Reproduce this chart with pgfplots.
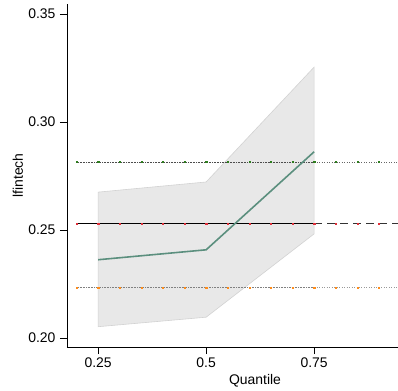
\documentclass[border=0pt]{standalone}
\usepackage{fontspec}
\setmainfont{Liberation Sans}
\usepackage{pgfplots}
\pgfplotsset{compat=1.18}
\definecolor{teal1}{HTML}{5B8F7E}
\definecolor{cifill}{HTML}{E8E8E8}
\definecolor{ciedge}{HTML}{D2D2D2}
\definecolor{dgreen}{HTML}{2E7D1E}
\definecolor{mred}{HTML}{E0303A}
\definecolor{morange}{HTML}{FF8C1A}
\begin{document}
\begin{tikzpicture}
\begin{axis}[
  name=ax,
  scale only axis,
  width=331bp, height=343bp,
  xmin=0.178, xmax=0.944,
  ymin=0.1958, ymax=0.3546,
  axis x line*=bottom, axis y line*=left,
  axis line style={-, black, line width=0.8pt},
  tick align=outside,
  major tick length=7bp,
  tick style={black, line width=0.8pt},
  xtick={0.25,0.5,0.75},
  xticklabels={0.25,0.5,0.75},
  ytick={0.20,0.25,0.30,0.35},
  yticklabel style={/pgf/number format/fixed, /pgf/number format/fixed zerofill, /pgf/number format/precision=2, xshift=-1bp},
  /pgf/number format/assume math mode=true,
  every tick label/.append style={font=\fontsize{14}{16}\selectfont},
  ylabel={lfintech},
  xlabel={Quantile},
  every axis y label/.style={at={(axis description cs:-0.148,0.5)}, rotate=90, anchor=center, font=\fontsize{14}{16}\selectfont},
  every axis x label/.style={at={(axis description cs:0.568,-0.099)}, anchor=center, font=\fontsize{14}{16}\selectfont},
  clip=true,
]
% confidence band
\addplot[fill=cifill, draw=ciedge, line width=0.6pt] coordinates {
 (0.25,0.2675) (0.5,0.2722) (0.75,0.3254) (0.75,0.2482) (0.5,0.2096) (0.25,0.2052)} -- cycle;
% upper reference line (dotted, green marks)
\addplot[black!70, densely dotted, line width=0.6pt] coordinates {(0.2,0.2815) (0.75,0.2815)};
\addplot[black!60, dotted, line width=0.5pt] coordinates {(0.75,0.2815) (0.95,0.2815)};
\addplot[only marks, mark=square*, mark size=0.6pt, dgreen] coordinates {
 (0.20,0.2815) (0.25,0.2815) (0.30,0.2815) (0.35,0.2815) (0.40,0.2815) (0.45,0.2815) (0.50,0.2815) (0.55,0.2815)
 (0.60,0.2815) (0.65,0.2815) (0.70,0.2815) (0.75,0.2815) (0.80,0.2815) (0.85,0.2815) (0.90,0.2815) (0.95,0.2815)};
% middle reference line (solid then dashed, red marks)
\addplot[black, line width=0.8pt] coordinates {(0.2,0.2528) (0.75,0.2528)};
\addplot[black!80, dash pattern=on 8bp off 5bp, line width=0.8pt] coordinates {(0.75,0.2528) (0.95,0.2528)};
\addplot[only marks, mark=square*, mark size=0.6pt, mred] coordinates {
 (0.20,0.2528) (0.25,0.2528) (0.30,0.2528) (0.35,0.2528) (0.40,0.2528) (0.45,0.2528) (0.50,0.2528) (0.55,0.2528)
 (0.60,0.2528) (0.65,0.2528) (0.70,0.2528) (0.75,0.2528) (0.80,0.2528) (0.85,0.2528) (0.90,0.2528) (0.95,0.2528)};
% lower reference line (dotted, orange marks)
\addplot[black!50, densely dotted, line width=0.6pt] coordinates {(0.2,0.2234) (0.75,0.2234)};
\addplot[black!40, dotted, line width=0.5pt] coordinates {(0.75,0.2234) (0.95,0.2234)};
\addplot[only marks, mark=square*, mark size=0.6pt, morange] coordinates {
 (0.20,0.2234) (0.25,0.2234) (0.30,0.2234) (0.35,0.2234) (0.40,0.2234) (0.45,0.2234) (0.50,0.2234) (0.55,0.2234)
 (0.60,0.2234) (0.65,0.2234) (0.70,0.2234) (0.75,0.2234) (0.80,0.2234) (0.85,0.2234) (0.90,0.2234) (0.95,0.2234)};
% quantile estimates
\addplot[teal1, line width=1.6pt] coordinates {(0.25,0.2362) (0.5,0.2408) (0.75,0.2862)};
\end{axis}
\pgfresetboundingbox
\path ([xshift=-67bp,yshift=-44bp]ax.south west) rectangle ([yshift=4bp]ax.north east);
\end{tikzpicture}
\end{document}
